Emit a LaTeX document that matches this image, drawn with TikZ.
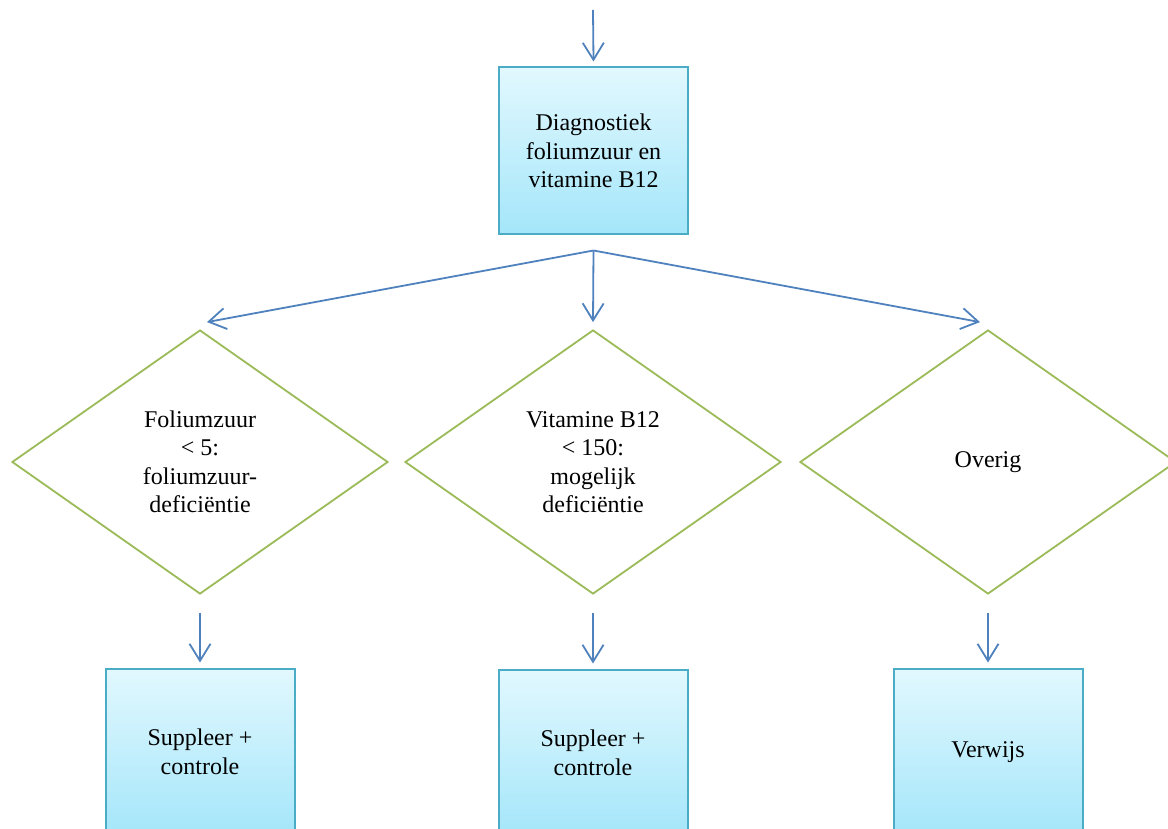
\documentclass[tikz,border=0pt]{standalone}
\usepackage{fontspec}
\setmainfont{Liberation Serif}
\usetikzlibrary{shapes.geometric,arrows.meta,calc}
\definecolor{arrowblue}{HTML}{4F81BD}
\definecolor{dgreen}{HTML}{9BBB59}
\definecolor{boxedge}{HTML}{4BACC6}
\definecolor{boxtop}{HTML}{E2F8FE}
\definecolor{boxbot}{HTML}{A4E6FA}
\begin{document}
\begin{tikzpicture}[x=1pt,y=1pt,
  procbox/.style={draw=boxedge,line width=2pt,top color=boxtop,bottom color=boxbot,
    minimum width=189pt,minimum height=167pt,inner sep=0pt,align=center,
    font=\fontsize{24}{28.5}\selectfont},
  decision/.style={diamond,draw=dgreen,line width=1.8pt,minimum width=376pt,
    minimum height=264pt,inner sep=0pt,align=center,
    font=\fontsize{24}{28.5}\selectfont},
  flow/.style={draw=arrowblue,line width=1.8pt,
    -{Straight Barb[length=17pt,width=21pt,line width=1.8pt]}}]
\useasboundingbox (0,0) rectangle (1168,-829);
\clip (0,0) rectangle (1168,-829);
\node[procbox] (top) at (593.5,-151) {Diagnostiek\\foliumzuur en\\vitamine B12};
\node[decision] (d1) at (200,-462) {Foliumzuur\\< 5:\\foliumzuur-\\deficiëntie};
\node[decision] (d2) at (593,-462) {Vitamine B12\\< 150:\\mogelijk\\deficiëntie};
\node[decision] (d3) at (988,-462) {Overig};
\node[procbox] (b1) at (200,-752) {Suppleer +\\controle};
\node[procbox] (b2) at (593,-753) {Suppleer +\\controle};
\node[procbox] (b3) at (988,-752) {Verwijs};
\coordinate (in) at (593,-10);
\coordinate (split) at ($(top.south)+(0,-15)$);
\draw[flow] (in) -- ($(top.north)+(0,5)$);
\draw[flow] (split) -- ($(d1.north)+(7,7)$);
\draw[flow] (split) -- ($(d2.north)+(0,7)$);
\draw[flow] (split) -- ($(d3.north)+(-8,7)$);
\draw[flow] ($(d1.south)+(0,-18)$) -- ($(b1.north)+(0,5)$);
\draw[flow] ($(d2.south)+(0,-18)$) -- ($(b2.north)+(0,5)$);
\draw[flow] ($(d3.south)+(0,-18)$) -- ($(b3.north)+(0,5)$);
\end{tikzpicture}
\end{document}
